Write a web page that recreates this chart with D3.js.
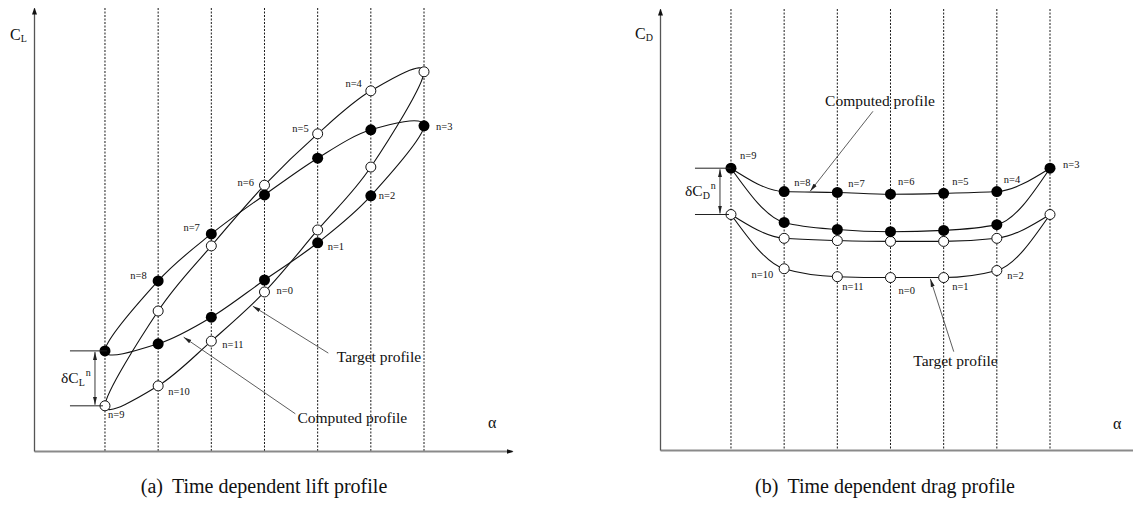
<!DOCTYPE html>
<html>
<head>
<meta charset="utf-8">
<script src="https://cdn.jsdelivr.net/npm/d3@7"></script>
<style>
  body { margin: 0; background: #fff; }
  svg text { font-family: "Liberation Serif", "Times New Roman", serif; fill: #111; }
</style>
</head>
<body>
<svg id="chart" width="1133" height="506"></svg>
<script>
// Angle-of-attack stations (dotted columns) and the station visited at each time step n
const stations = [0, 1, 2, 3, 4, 5, 6];
const steps = [0, 1, 2, 3, 4, 5, 6, 7, 8, 9, 10, 11];
const stepStation = [3, 4, 5, 6, 5, 4, 3, 2, 1, 0, 1, 2];

// Lift coefficient per time step (arbitrary units)
const liftTarget   = [3.59, 4.99, 6.41, 8.56, 8.13, 7.16, 6.00, 4.63, 3.16, 1.02, 1.47, 2.48];
const liftComputed = [3.86, 4.70, 5.76, 7.34, 7.25, 6.61, 5.78, 4.90, 3.84, 2.26, 2.42, 3.02];

// Drag coefficient per time step (arbitrary units)
const dragTarget   = [3.91, 3.91, 4.07, 5.34, 4.80, 4.73, 4.73, 4.75, 4.80, 5.34, 4.11, 3.93];
const dragComputed = [4.95, 4.98, 5.11, 6.39, 5.86, 5.82, 5.80, 5.84, 5.86, 6.39, 5.16, 5.00];

// Drag branches run from n=9 to n=3 along increasing alpha
const lowerBranch = [9, 10, 11, 0, 1, 2, 3];
const upperBranch = [9, 8, 7, 6, 5, 4, 3];

const captionTags = ["(a)", "(b)"];
const captionTexts = ["Time dependent lift profile", "Time dependent drag profile"];

const svg = d3.select("#chart");
const defs = svg.append("defs");
defs.append("marker").attr("id", "axisHead")
  .attr("viewBox", "0 -3 7 6").attr("refX", 6).attr("refY", 0)
  .attr("markerWidth", 7).attr("markerHeight", 6).attr("markerUnits", "userSpaceOnUse")
  .attr("orient", "auto")
  .append("path").attr("d", "M0,-2.5L7,0L0,2.5Z").attr("fill", "#111");
defs.append("marker").attr("id", "pointer")
  .attr("viewBox", "0 -3 8 6").attr("refX", 8).attr("refY", 0)
  .attr("markerWidth", 8).attr("markerHeight", 6).attr("markerUnits", "userSpaceOnUse")
  .attr("orient", "auto")
  .append("path").attr("d", "M0,-2L8,0L0,2Z").attr("fill", "#222");
defs.append("marker").attr("id", "pointerStart")
  .attr("viewBox", "0 -3 8 6").attr("refX", 0).attr("refY", 0)
  .attr("markerWidth", 8).attr("markerHeight", 6).attr("markerUnits", "userSpaceOnUse")
  .attr("orient", "auto")
  .append("path").attr("d", "M8,-2L0,0L8,2Z").attr("fill", "#222");

function panel(cfg) {
  const g = svg.append("g");
  const x = d3.scaleLinear().domain([-1.335, 7.655]).range(cfg.xRange);
  const y = d3.scaleLinear().domain([0, 10]).range(cfg.yRange);

  // Station columns
  g.selectAll("line.station").data(stations).join("line")
    .attr("class", "station")
    .attr("x1", d => x(d)).attr("x2", d => x(d))
    .attr("y1", y(10)).attr("y2", y(0))
    .attr("stroke", "#1a1a1a").attr("stroke-width", 1)
    .attr("stroke-dasharray", "2,1.5");

  // Axes (no ticks), arrow at the open end
  const xa = g.append("g").attr("transform", `translate(0,${y(0)})`)
    .call(d3.axisBottom(x).tickValues([]).tickSizeOuter(0));
  xa.select(".domain").attr("stroke", "#8a8a8a").attr("stroke-width", 1.8)
    .attr("marker-end", "url(#axisHead)");
  const ya = g.append("g").attr("transform", `translate(${x(-1.335)},0)`)
    .call(d3.axisLeft(y).tickValues([]).tickSizeOuter(0));
  ya.select(".domain").attr("stroke", "#555").attr("stroke-width", 1.3)
    .attr("marker-end", "url(#axisHead)");

  // Axis titles
  const yt = g.append("text").attr("x", cfg.yTitle[0]).attr("y", cfg.yTitle[1]).attr("font-size", 16);
  yt.append("tspan").text("C");
  yt.append("tspan").attr("font-size", 10).attr("dy", 2).text(cfg.sub);
  g.append("text").attr("x", cfg.alphaPos[0]).attr("y", cfg.alphaPos[1])
    .attr("font-size", 16).text("α");

  // Profile curves
  const pt = (vals, n) => [x(stepStation[n]), y(vals[n])];
  if (cfg.closed) {
    const line = d3.line().curve(d3.curveCardinalClosed);
    [cfg.target, cfg.computed].forEach(vals => {
      g.append("path").attr("d", line(steps.map(n => pt(vals, n))))
        .attr("fill", "none").attr("stroke", "#111").attr("stroke-width", 1.1);
    });
  } else {
    const line = d3.line().curve(d3.curveMonotoneX);
    [cfg.target, cfg.computed].forEach(vals => {
      [lowerBranch, upperBranch].forEach(br => {
        g.append("path").attr("d", line(br.map(n => pt(vals, n))))
          .attr("fill", "none").attr("stroke", "#111").attr("stroke-width", 1.1);
      });
    });
  }

  // Markers: open = target, filled = computed
  g.selectAll("circle.t").data(steps).join("circle").attr("class", "t")
    .attr("cx", n => x(stepStation[n])).attr("cy", n => y(cfg.target[n]))
    .attr("r", 5).attr("fill", "#fff").attr("stroke", "#111").attr("stroke-width", 1);
  g.selectAll("circle.c").data(steps).join("circle").attr("class", "c")
    .attr("cx", n => x(stepStation[n])).attr("cy", n => y(cfg.computed[n]))
    .attr("r", 5.5).attr("fill", "#000");

  // Step labels
  g.selectAll("text.step").data(cfg.labels).join("text").attr("class", "step")
    .attr("x", d => x(stepStation[d.n]) + d.dx)
    .attr("y", d => y((d.s === "t" ? cfg.target : cfg.computed)[d.n]) + d.dy)
    .attr("dominant-baseline", "middle")
    .attr("text-anchor", d => d.a)
    .attr("font-size", 10.5).attr("fill", "#222")
    .text(d => "n=" + d.n);

  // δC bracket between computed and target at n=9
  const bx = x(stepStation[9]);
  const yc = y(cfg.computed[9]), yt9 = y(cfg.target[9]);
  [[yc, cfg.bracket.topEnd], [yt9, cfg.bracket.botEnd]].forEach(([yy, end]) => {
    g.append("line").attr("x1", bx - cfg.bracket.left).attr("x2", bx + end)
      .attr("y1", yy).attr("y2", yy).attr("stroke", "#222").attr("stroke-width", 1);
  });
  g.append("line").attr("x1", bx - cfg.bracket.arrow).attr("x2", bx - cfg.bracket.arrow)
    .attr("y1", yc + 1).attr("y2", yt9 - 1)
    .attr("stroke", "#222").attr("stroke-width", 0.9)
    .attr("marker-start", "url(#pointerStart)").attr("marker-end", "url(#pointer)");
  const dl = g.append("text").attr("x", bx + cfg.bracket.textDx)
    .attr("y", (yc + yt9) / 2 + cfg.bracket.textDy).attr("font-size", 15.5);
  dl.append("tspan").text("δC");
  dl.append("tspan").attr("font-size", 10).attr("dy", 3).text(cfg.sub);
  dl.append("tspan").attr("font-size", 10).attr("dy", -10).attr("dx", 1).text("n");

  // Leader annotations
  cfg.notes.forEach(nt => {
    g.append("line")
      .attr("x1", x(nt.tail[0])).attr("y1", y(nt.tail[1]))
      .attr("x2", x(nt.tip[0])).attr("y2", y(nt.tip[1]))
      .attr("stroke", "#333").attr("stroke-width", 0.8)
      .attr("marker-end", "url(#pointer)");
    g.append("text").attr("x", x(nt.text[0])).attr("y", y(nt.text[1]))
      .attr("dominant-baseline", "middle").attr("font-size", 15.5).text(nt.label);
  });

  // Caption: tag, quad space, title
  const cap = g.append("text").attr("x", cfg.caption[0]).attr("y", cfg.caption[1])
    .attr("text-anchor", "middle").attr("font-size", 20);
  cap.append("tspan").text(cfg.captionTag);
  cap.append("tspan").attr("dx", 9).text(cfg.captionText);
}

panel({
  xRange: [34, 512], yRange: [451, 8], sub: "L", closed: true,
  target: liftTarget, computed: liftComputed,
  yTitle: [10, 39.5], alphaPos: [488, 427.5],
  labels: [
    { n: 0, s: "t", dx: 12, dy: 0, a: "start" },
    { n: 1, s: "c", dx: 10, dy: 5, a: "start" },
    { n: 2, s: "c", dx: 8, dy: 1, a: "start" },
    { n: 3, s: "c", dx: 12, dy: 2, a: "start" },
    { n: 4, s: "t", dx: -9, dy: -6, a: "end" },
    { n: 5, s: "t", dx: -9, dy: -4, a: "end" },
    { n: 6, s: "t", dx: -10.5, dy: -2, a: "end" },
    { n: 7, s: "c", dx: -11.5, dy: -5, a: "end" },
    { n: 8, s: "c", dx: -11.5, dy: -4, a: "end" },
    { n: 9, s: "t", dx: 3, dy: 9.5, a: "start" },
    { n: 10, s: "t", dx: 10, dy: 6.5, a: "start" },
    { n: 11, s: "t", dx: 11, dy: 4.5, a: "start" }
  ],
  bracket: { left: 35, topEnd: 2, botEnd: -2, arrow: 10, textDx: -44, textDy: 5 },
  notes: [
    { label: "Target profile", tip: [2.78, 3.27], tail: [4.20, 2.21], text: [4.36, 2.10] },
    { label: "Computed profile", tip: [1.48, 2.57], tail: [3.58, 0.84], text: [3.62, 0.72] }
  ],
  caption: [264, 493], captionTag: captionTags[0], captionText: captionTexts[0]
});

panel({
  xRange: [660, 1138], yRange: [450, 9], sub: "D", closed: false,
  target: dragTarget, computed: dragComputed,
  yTitle: [635, 38.5], alphaPos: [1113, 429],
  labels: [
    { n: 9, s: "c", dx: 9, dy: -12, a: "start" },
    { n: 8, s: "c", dx: 10, dy: -7.5, a: "start" },
    { n: 7, s: "c", dx: 11, dy: -7.5, a: "start" },
    { n: 6, s: "c", dx: 7.5, dy: -11.5, a: "start" },
    { n: 5, s: "c", dx: 8.5, dy: -11, a: "start" },
    { n: 4, s: "c", dx: 7, dy: -11, a: "start" },
    { n: 3, s: "c", dx: 13, dy: -3, a: "start" },
    { n: 2, s: "t", dx: 10.5, dy: 6, a: "start" },
    { n: 1, s: "t", dx: 8.5, dy: 10.5, a: "start" },
    { n: 0, s: "t", dx: 8, dy: 14, a: "start" },
    { n: 11, s: "t", dx: 5, dy: 10.5, a: "start" },
    { n: 10, s: "t", dx: -11, dy: 6.5, a: "end" }
  ],
  bracket: { left: 36, topEnd: 0, botEnd: -2, arrow: 11, textDx: -46, textDy: 5 },
  notes: [
    { label: "Computed profile", tip: [1.49, 5.87], tail: [2.67, 7.68], text: [1.77, 7.87] },
    { label: "Target profile", tip: [3.75, 3.88], tail: [4.19, 2.23], text: [3.43, 1.98] }
  ],
  caption: [885, 493], captionTag: captionTags[1], captionText: captionTexts[1]
});
</script>
</body>
</html>
